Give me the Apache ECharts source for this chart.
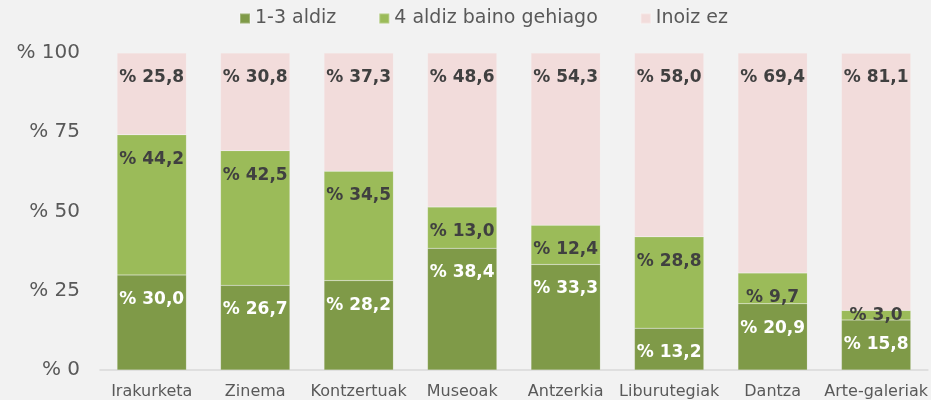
<!DOCTYPE html>
<html>
<head>
<meta charset="utf-8">
<script src="https://cdn.jsdelivr.net/npm/echarts@6/dist/echarts.min.js"></script>
<style>
  html, body { margin: 0; padding: 0; background: #f2f2f2; }
  #main { width: 931px; height: 400px; }
</style>
</head>
<body>
<div id="main"></div>
<script>
var categories = ['Irakurketa', 'Zinema', 'Kontzertuak', 'Museoak', 'Antzerkia', 'Liburutegiak', 'Dantza', 'Arte-galeriak'];
var seriesNames = ['1-3 aldiz', '4 aldiz baino gehiago', 'Inoiz ez'];
var values13 = [30.0, 26.7, 28.2, 38.4, 33.3, 13.2, 20.9, 15.8];
var values4plus = [44.2, 42.5, 34.5, 13.0, 12.4, 28.8, 9.7, 3.0];
var valuesNever = [25.8, 30.8, 37.3, 48.6, 54.3, 58.0, 69.4, 81.1];
var yTicks = [0, 25, 50, 75, 100];

var colors = ['#7f9a48', '#9bbb59', '#f2dcdb'];
var labelColors = ['#ffffff', '#404040', '#404040'];
var font = "'DejaVu Sans'";

var chartDom = document.getElementById('main');
var myChart = echarts.init(chartDom);

function fmt(v) {
  return '% ' + v.toFixed(1).replace('.', ',');
}

// small segments get their label centred, like the original
function buildData(vals) {
  return vals.map(function (v) {
    if (v < 5) {
      return { value: v, label: { position: 'inside', distance: 0 } };
    }
    return v;
  });
}

function makeSeries(name, vals, i) {
  return {
    name: name,
    type: 'bar',
    stack: 'total',
    barCategoryGap: '33%',
    data: buildData(vals),
    itemStyle: { color: colors[i], borderColor: 'rgba(255,255,255,0.25)', borderWidth: 0.5 },
    label: {
      show: true,
      position: 'insideTop',
      distance: 16,
      color: labelColors[i],
      fontFamily: font,
      fontWeight: 'bold',
      fontSize: 17,
      formatter: function (p) { return fmt(p.value); }
    }
  };
}

var option = {
  backgroundColor: '#f2f2f2',
  animation: false,
  textStyle: { fontFamily: font },
  legend: {
    top: 9,
    left: 239,
    padding: 0,
    itemWidth: 10,
    itemHeight: 10,
    itemGap: 42,
    icon: 'rect',
    textStyle: { fontFamily: font, fontSize: 19, color: '#595959' },
    data: seriesNames
  },
  grid: { left: 100, right: 3, top: 53, bottom: 29 },
  xAxis: {
    type: 'category',
    data: categories,
    axisLine: { lineStyle: { color: '#d9d9d9', width: 1.5 } },
    axisTick: { show: false },
    axisLabel: { fontFamily: font, fontSize: 16, color: '#595959', margin: 14, interval: 0 }
  },
  yAxis: {
    type: 'value',
    min: yTicks[0],
    max: yTicks[yTicks.length - 1],
    interval: 25,
    splitLine: { show: false },
    axisLine: { show: false },
    axisTick: { show: false },
    axisLabel: {
      fontFamily: font, fontSize: 20, color: '#595959', margin: 20,
      formatter: function (v) { return '% ' + v; }
    }
  },
  series: [
    makeSeries(seriesNames[0], values13, 0),
    makeSeries(seriesNames[1], values4plus, 1),
    makeSeries(seriesNames[2], valuesNever, 2)
  ]
};

if (chartDom && myChart) {
  myChart.setOption(option);
} else {
  console.error('Failed to initialize the chart');
}
</script>
</body>
</html>
